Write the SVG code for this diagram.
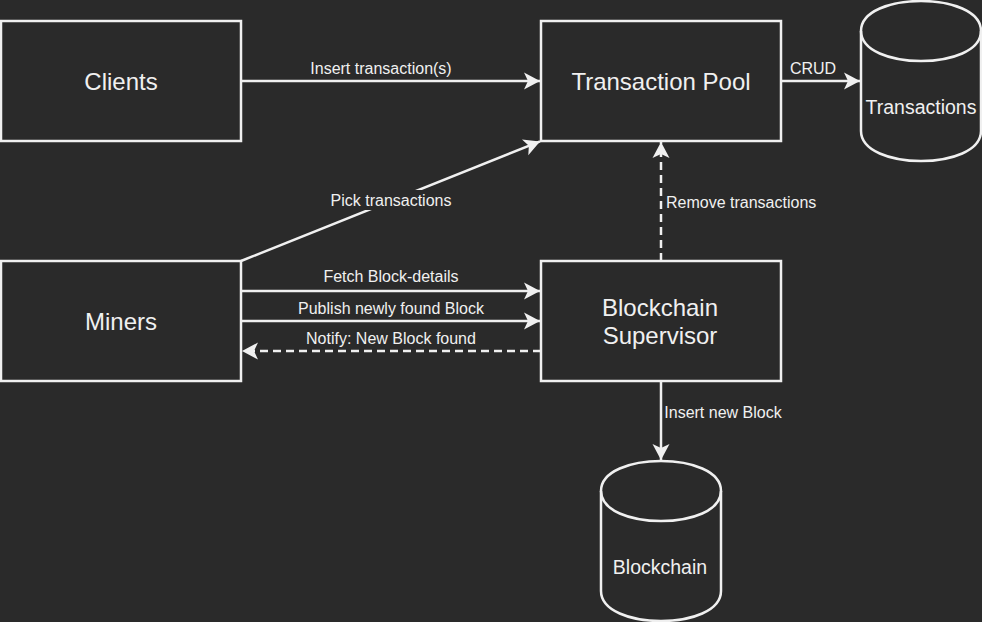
<svg xmlns="http://www.w3.org/2000/svg" width="982" height="622" viewBox="0 0 982 622">
  <defs>
    <style>
      .box { fill: #2a2a2a; stroke: #f0f0f0; stroke-width: 2.5; }
      .node-text { font-family: "Liberation Sans", Arial, sans-serif; font-size: 24px; fill: #f0f0f0; text-anchor: middle; }
      .cyl-text { font-family: "Liberation Sans", Arial, sans-serif; font-size: 19.5px; fill: #f0f0f0; text-anchor: middle; }
      .edge { fill: none; stroke: #f0f0f0; stroke-width: 2.5; }
      .dashed { stroke-dasharray: 8 5; }
      .edge-label { font-family: "Liberation Sans", Arial, sans-serif; font-size: 16px; fill: #f0f0f0; }
    </style>
    <marker id="arrow" viewBox="-17 -9 18 18" refX="0" refY="0" markerWidth="18" markerHeight="18" markerUnits="userSpaceOnUse" orient="auto">
      <path d="M0,0 L-16,-8.5 L-12,0 L-16,8.5 Z" fill="#f0f0f0" stroke="none"/>
    </marker>
  </defs>
  <rect x="0" y="0" width="982" height="622" fill="#2a2a2a"/>

  <g id="connectors">
    <g id="edge-insert">
      <line class="edge" x1="241" y1="81" x2="540" y2="81" marker-end="url(#arrow)"/>
      <text class="edge-label" x="381" y="74.3" text-anchor="middle">Insert transaction(s)</text>
    </g>
    <g id="edge-crud">
      <line class="edge" x1="781" y1="81" x2="860" y2="81" marker-end="url(#arrow)"/>
      <text class="edge-label" x="813" y="74" text-anchor="middle">CRUD</text>
    </g>
    <g id="edge-pick">
      <line class="edge" x1="241" y1="261" x2="540" y2="141.4" marker-end="url(#arrow)"/>
      <rect x="329" y="190" width="124" height="20" fill="#2a2a2a"/>
      <text class="edge-label" x="391" y="206" text-anchor="middle">Pick transactions</text>
    </g>
    <g id="edge-remove">
      <line class="edge dashed" x1="661" y1="261" x2="661" y2="142" marker-end="url(#arrow)"/>
      <text class="edge-label" x="666" y="207.7">Remove transactions</text>
    </g>
    <g id="edge-fetch">
      <line class="edge" x1="241" y1="291" x2="540" y2="291" marker-end="url(#arrow)"/>
      <text class="edge-label" x="391" y="282" text-anchor="middle">Fetch Block-details</text>
    </g>
    <g id="edge-publish">
      <line class="edge" x1="241" y1="321" x2="540" y2="321" marker-end="url(#arrow)"/>
      <text class="edge-label" x="391" y="314.3" text-anchor="middle">Publish newly found Block</text>
    </g>
    <g id="edge-notify">
      <line class="edge dashed" x1="541" y1="351" x2="242" y2="351" marker-end="url(#arrow)"/>
      <text class="edge-label" x="391" y="344.3" text-anchor="middle">Notify: New Block found</text>
    </g>
    <g id="edge-insert-block">
      <line class="edge" x1="661" y1="381" x2="661" y2="460" marker-end="url(#arrow)"/>
      <text class="edge-label" x="664.3" y="418.3">Insert new Block</text>
    </g>
  </g>

  <g id="clients">
    <rect class="box" x="1" y="21" width="240" height="120"/>
    <text class="node-text" x="121" y="89.8">Clients</text>
  </g>
  <g id="transaction-pool">
    <rect class="box" x="541" y="21" width="240" height="120"/>
    <text class="node-text" x="661" y="89.5">Transaction Pool</text>
  </g>
  <g id="miners">
    <rect class="box" x="1" y="261" width="240" height="120"/>
    <text class="node-text" x="121" y="330">Miners</text>
  </g>
  <g id="blockchain-supervisor">
    <rect class="box" x="541" y="261" width="240" height="120"/>
    <text class="node-text" x="660" y="316">Blockchain</text>
    <text class="node-text" x="660" y="344.3">Supervisor</text>
  </g>
  <g id="transactions-db">
    <path class="box" d="M861,31 C861,-9 981,-9 981,31 L981,131 C981,171 861,171 861,131 Z"/>
    <path class="edge" d="M861,31 C861,71 981,71 981,31"/>
    <text class="cyl-text" x="921" y="113.5">Transactions</text>
  </g>
  <g id="blockchain-db">
    <path class="box" d="M601,491 C601,451 721,451 721,491 L721,591 C721,631 601,631 601,591 Z"/>
    <path class="edge" d="M601,491 C601,531 721,531 721,491"/>
    <text class="cyl-text" x="660" y="573.5">Blockchain</text>
  </g>
</svg>
